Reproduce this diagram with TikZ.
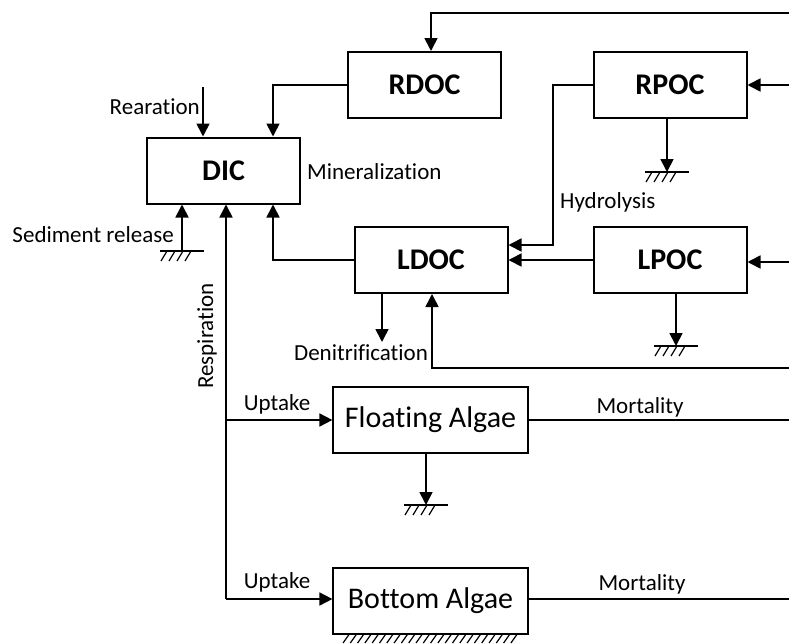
\documentclass[tikz,border=0pt]{standalone}
\usepackage{fontspec}
\setmainfont{Carlito}[Ligatures=CommonOff]
\usetikzlibrary{arrows.meta}

\tikzset{
  pool/.style={draw, line width=2pt, minimum width=153pt, minimum height=66pt, inner sep=0pt, font=\fontsize{30}{36}\selectfont\bfseries},
  algae/.style={draw, line width=1.2pt, minimum width=195pt, minimum height=66pt, inner sep=0pt, font=\fontsize{30}{36}\selectfont},
  lbl/.style={inner sep=0pt, font=\fontsize{23}{27}\selectfont},
  flowline/.style={line width=1.7pt, -{Triangle[length=13pt,width=13pt]}},
  link/.style={line width=1.7pt},
  ground/.pic={
    \draw[line width=1.5pt] (-22,0) -- (22,0);
    \foreach \i in {0,8,16,24}
      \draw[line width=1.2pt] (-21+\i,10) -- (-15+\i,0);
  }
}

\begin{document}
\begin{tikzpicture}[x=1pt,y=-1pt]
            \useasboundingbox (0,0) rectangle (789,643);

            %nodes
            \node[pool] (dic) at (223.5,170.5) {DIC};
            \node[pool] (rdoc) at (424.5,85) {RDOC};
            \node[pool] (rpoc) at (670,85) {RPOC};
            \node[pool] (ldoc) at (431,260) {LDOC};
            \node[pool] (lpoc) at (670,260) {LPOC};
            \node[algae] (fa) at (430.5,420) {Floating Algae};
            \node[algae] (ba) at (430.5,601) {Bottom Algae};

            %free ends
            \coordinate (rin1) at (789,13);
            \coordinate (rin2) at (789,85);
            \coordinate (rin3) at (789,262);
            \coordinate (rin4) at (789,368);
            \coordinate (rout1) at (789,420);
            \coordinate (rout2) at (789,599);
            \coordinate (rear) at (203,87);
            \coordinate (resp) at (226,599);
            \coordinate (hyd) at (553,245);
            \coordinate (den) at (382,342);
            \coordinate (g0) at (182,251);
            \coordinate (g1) at (667,172);
            \coordinate (g2) at (676,346);
            \coordinate (g3) at (426,505);

            %sinks
            \pic at (g0) {ground};
            \pic at (g1) {ground};
            \pic at (g2) {ground};
            \pic at (g3) {ground};
            \foreach \x in {343,350.3,...,512}
              \draw[line width=1.2pt] (\x,643) -- (\x+6,634.5);

            %edges
            \draw[flowline] (rin1) -| ([xshift=6.5pt]rdoc.north);
            \draw[flowline] (rdoc.west) -| ([xshift=49.5pt]dic.north);
            \draw[flowline] (rear) -- (rear |- dic.north);
            \draw[flowline] (g0) -- (g0 |- dic.south);
            \draw[flowline] (resp) -- (resp |- dic.south);
            \draw[flowline] (resp |- fa.west) -- (fa.west);
            \draw[flowline] (resp) -- (resp -| ba.west);
            \draw[flowline] (ldoc.west) -| ([xshift=49.5pt]dic.south);
            \draw[flowline] (rpoc.west) -| (hyd) -- (hyd -| ldoc.east);
            \draw[flowline] (lpoc.west) -- (ldoc.east);
            \draw[flowline] (rin2) -- (rpoc.east);
            \draw[flowline] (rin3) -- (rin3 -| lpoc.east);
            \draw[flowline] (g1 |- rpoc.south) -- (g1);
            \draw[flowline] (g2 |- lpoc.south) -- (g2);
            \draw[flowline] (den |- ldoc.south) -- (den);
            \draw[flowline] (rin4) -| ([xshift=1pt]ldoc.south);
            \draw[flowline] (g3 |- fa.south) -- (g3);
            \draw[link] (fa.east) -- (rout1);
            \draw[link] (rout2 -| ba.east) -- (rout2);

            %labels
            \node[lbl, anchor=east] (l1) at (200,107) {Rearation};
            \node[lbl, anchor=west] (l2) at (307,172) {Mineralization};
            \node[lbl, anchor=east] (l3) at (174,235) {Sediment release};
            \node[lbl, rotate=90] (l4) at (207,336) {Respiration};
            \node[lbl, anchor=west] (l5) at (560,202) {Hydrolysis};
            \node[lbl] (l6) at (361,353) {Denitrification};
            \node[lbl] (l7) at (277,404) {Uptake};
            \node[lbl] (l8) at (277,582) {Uptake};
            \node[lbl] (l9) at (640,407) {Mortality};
            \node[lbl] (l10) at (642,584) {Mortality};
\end{tikzpicture}
\end{document}
